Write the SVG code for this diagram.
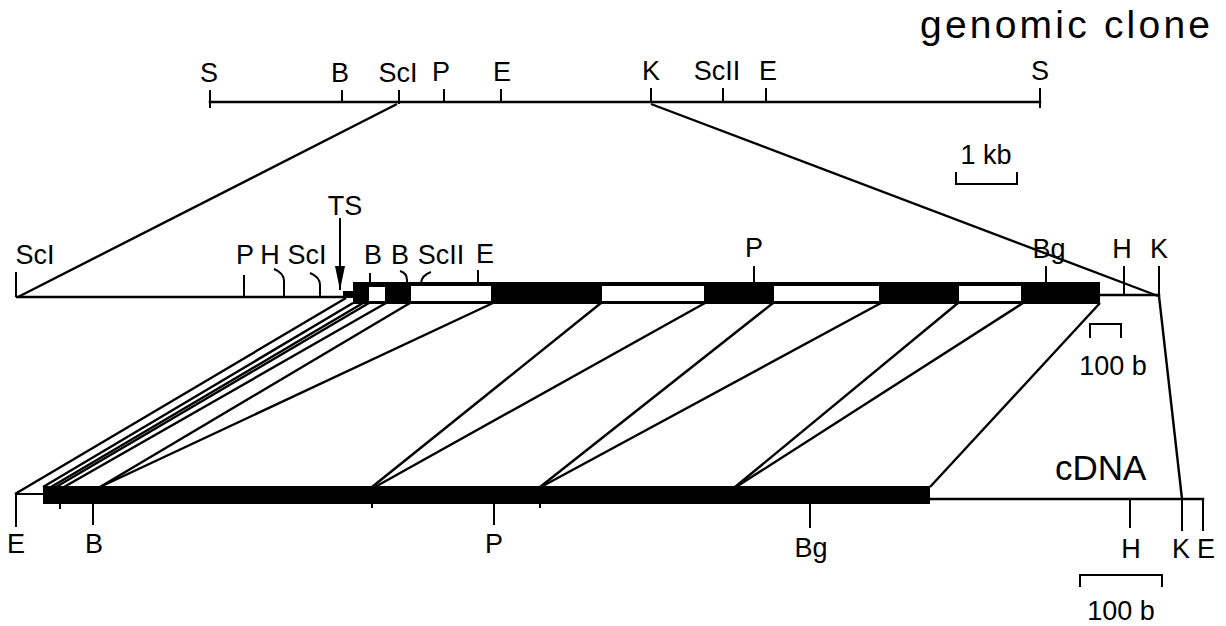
<svg xmlns="http://www.w3.org/2000/svg" width="1226" height="626" viewBox="0 0 1226 626">
  <defs>
    <style>
      .lbl { font-family: "Liberation Sans", Arial, sans-serif; font-size: 27px; fill: #000; text-anchor: middle; }
      .big { font-family: "Liberation Sans", Arial, sans-serif; fill: #000; }
      .ln { stroke: #000; stroke-width: 2.5; fill: none; stroke-linecap: square; }
      .thin { stroke: #000; stroke-width: 2; fill: none; }
      .conn { stroke: #000; stroke-width: 2.4; fill: none; }
    </style>
    <marker id="arrow" viewBox="0 0 24 10" refX="24" refY="5" markerWidth="24" markerHeight="10" markerUnits="userSpaceOnUse" orient="auto">
      <path d="M0,0 L24,5 L0,10 Z" fill="#000"/>
    </marker>
  </defs>
  <rect width="1226" height="626" fill="#fff"/>

  <!-- genomic clone map -->
  <g id="genomic-clone">
    <text class="big" x="920" y="38" font-size="39" textLength="290" lengthAdjust="spacing">genomic clone</text>
    <line class="ln" x1="210" y1="102" x2="1040" y2="102" stroke-width="3"/>
    <path class="thin" d="M210,90 V108 M342,90 V102 M399,90 V104 M444,89 V102 M501,89 V102 M651,88 V102 M723,88 V102 M766,88 V102 M1040,88 V108"/>
    <text class="lbl" x="209" y="82">S</text>
    <text class="lbl" x="340" y="82">B</text>
    <text class="lbl" x="398" y="82">ScI</text>
    <text class="lbl" x="441" y="81">P</text>
    <text class="lbl" x="502" y="81">E</text>
    <text class="lbl" x="651" y="80">K</text>
    <text class="lbl" x="717" y="80">ScII</text>
    <text class="lbl" x="768" y="80">E</text>
    <text class="lbl" x="1040" y="80">S</text>
  </g>

  <!-- 1 kb scale -->
  <g id="scale-1kb">
    <path class="thin" d="M956,172 V184 H1017 V172"/>
    <text class="lbl" x="986" y="164">1 kb</text>
  </g>

  <!-- expanded genomic region -->
  <g id="genomic-region">
    <line class="ln" x1="17" y1="297" x2="345" y2="297"/>
    <rect x="343" y="291" width="12" height="7" fill="#000"/>
    <line class="ln" x1="1100" y1="295" x2="1159" y2="295"/>
    <rect x="353" y="282" width="747" height="22" fill="#000"/>
    <g fill="#fff">
      <rect x="369" y="287" width="16" height="14"/>
      <rect x="411" y="286" width="80" height="15"/>
      <rect x="602" y="286" width="102" height="15"/>
      <rect x="774" y="286" width="105" height="15"/>
      <rect x="959" y="286" width="62" height="15"/>
    </g>
    <path class="thin" d="M16,272 V297 M244,275 V297 M370,273 V283 M478,270 V283 M754,266 V283 M1046,266 V283 M1124,266 V294 M1159,266 V296"/>
    <path class="thin" d="M284,297 V281 Q284,273 274,269"/>
    <path class="thin" d="M320,297 V285 Q320,277 310,273"/>
    <path class="thin" d="M407,283 V280 Q407,273 400,271"/>
    <path class="thin" d="M421,283 Q422,275 431,272"/>
    <line class="thin" x1="340" y1="218" x2="340" y2="290" marker-end="url(#arrow)" stroke-width="2"/>
    <text class="lbl" x="345" y="215" font-size="26">TS</text>
    <text class="lbl" x="35" y="264">ScI</text>
    <text class="lbl" x="245" y="264">P</text>
    <text class="lbl" x="270" y="264">H</text>
    <text class="lbl" x="307" y="264">ScI</text>
    <text class="lbl" x="373" y="264">B</text>
    <text class="lbl" x="400" y="264">B</text>
    <text class="lbl" x="441" y="264">ScII</text>
    <text class="lbl" x="485" y="263">E</text>
    <text class="lbl" x="754" y="257">P</text>
    <text class="lbl" x="1049" y="258">Bg</text>
    <text class="lbl" x="1122" y="258">H</text>
    <text class="lbl" x="1159" y="258">K</text>
  </g>

  <!-- 100 b scale, genomic -->
  <g id="scale-100b-genomic">
    <path class="thin" d="M1090,338 V324 H1121 V338"/>
    <text class="lbl" x="1113" y="375">100 b</text>
  </g>

  <!-- cDNA map -->
  <g id="cdna">
    <text class="big" x="1055" y="480" font-size="35">cDNA</text>
    <line class="thin" x1="16" y1="494" x2="44" y2="494"/>
    <rect x="43" y="486" width="887" height="18" fill="#000"/>
    <line class="ln" x1="930" y1="499" x2="1203" y2="499" stroke-width="3"/>
    <path class="thin" d="M16,494 V527 M93,504 V525 M494,504 V525 M810,504 V528 M1130,499 V528 M1182,499 V531 M1203,499 V531 M60,504 V509 M372,504 V508 M540,504 V508"/>
    <text class="lbl" x="16" y="553">E</text>
    <text class="lbl" x="94" y="553">B</text>
    <text class="lbl" x="494" y="553">P</text>
    <text class="lbl" x="811" y="557">Bg</text>
    <text class="lbl" x="1131" y="558">H</text>
    <text class="lbl" x="1181" y="558">K</text>
    <text class="lbl" x="1206" y="558">E</text>
  </g>

  <!-- 100 b scale, cDNA -->
  <g id="scale-100b-cdna">
    <path class="thin" d="M1080,587 V575 H1162 V587"/>
    <text class="lbl" x="1121" y="620">100 b</text>
  </g>

  <!-- connectors -->
  <g id="connectors" class="conn">
    <line x1="397" y1="104" x2="18" y2="297"/>
    <line x1="651" y1="104" x2="1158" y2="296"/>
    <line x1="346" y1="298" x2="15" y2="494"/>
    <line x1="353" y1="303" x2="43" y2="487"/>
    <line x1="363" y1="303" x2="51" y2="487"/>
    <line x1="369" y1="303" x2="56" y2="487"/>
    <line x1="386" y1="303" x2="64" y2="487"/>
    <line x1="410" y1="303" x2="100" y2="487"/>
    <line x1="493" y1="303" x2="100" y2="487"/>
    <line x1="601" y1="303" x2="372" y2="487"/>
    <line x1="705" y1="303" x2="375" y2="487"/>
    <line x1="773" y1="303" x2="540" y2="487"/>
    <line x1="881" y1="303" x2="541" y2="487"/>
    <line x1="958" y1="303" x2="735" y2="487"/>
    <line x1="1023" y1="303" x2="736" y2="487"/>
    <line x1="1100" y1="303" x2="930" y2="487"/>
    <line x1="1159" y1="296" x2="1182" y2="499"/>
  </g>
</svg>
